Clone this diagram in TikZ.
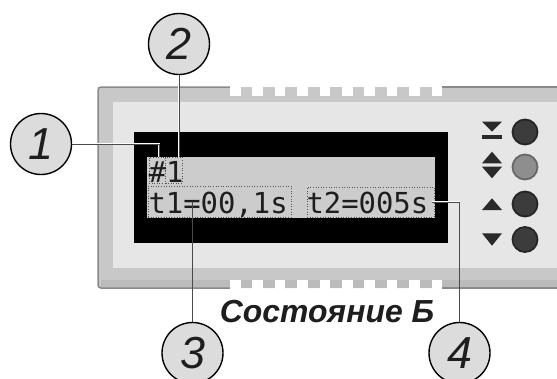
\documentclass[tikz,border=0pt]{standalone}
\usepackage{fontspec}
\setmainfont{Liberation Sans}
\newfontfamily\lcdfont{DejaVu Sans Mono}
\newfontfamily\numfont{Liberation Sans}
\definecolor{bandgray}{HTML}{C8C8C8}
\definecolor{banddark}{HTML}{BBBBBB}
\definecolor{edgegray}{HTML}{8A8A8A}
\definecolor{innerpanel}{HTML}{E6E6E6}
\definecolor{screengray}{HTML}{CCCCCC}
\definecolor{lcdtext}{HTML}{1E1E1E}
\definecolor{callfill}{HTML}{DCDCDC}
\definecolor{btndark}{HTML}{3C3C3C}
\definecolor{btnrim}{HTML}{262626}
\definecolor{btnlight}{HTML}{8E8E8E}
\definecolor{btnlrim}{HTML}{686868}
\definecolor{trigray}{HTML}{2A2A2A}
\definecolor{linecore}{HTML}{4A4A4A}
\definecolor{boxline}{HTML}{555555}
\tikzset{
  callout/.style={circle, draw=black, line width=1.4bp, fill=callfill, minimum size=61bp, inner sep=0pt,
    font=\numfont\itshape\fontsize{45}{45}\selectfont, text=lcdtext},
  lcd/.style={inner sep=0pt, outer sep=0pt, font=\lcdfont\fontsize{29}{29}\selectfont, text=lcdtext},
  dotbox/.style={rectangle, draw=boxline, dotted, line width=0.6bp, inner sep=0pt, outer sep=0pt},
  conn/.style={draw=linecore, line width=0.7bp, preaction={draw=white, line width=1.9bp}},
  btn/.style={circle, fill=btndark, draw=btnrim, line width=1.8bp, minimum size=25bp, inner sep=0pt},
  btnlt/.style={btn, fill=btnlight, draw=btnlrim},
  tri/.style={fill=trigray}
}
\begin{document}
\begin{tikzpicture}[x=1bp,y=-1bp]
\useasboundingbox (0,0) rectangle (557,378);
\fill[white] (0,0) rectangle (557,378);
\clip (0,0) rectangle (557,378);
% device body
\fill[bandgray, rounded corners=3bp] (98,87) rectangle (600,288);
\fill[banddark] (101,280) rectangle (600,287.5);
\fill[innerpanel] (113,102) rectangle (600,268);
\draw[edgegray, line width=1.5bp, rounded corners=3bp] (230,87) -- (98,87) -- (98,288) -- (230,288);
\draw[edgegray, line width=1.5bp] (442,87) -- (600,87);
\draw[edgegray, line width=1.5bp] (442,288) -- (600,288);
\foreach \i in {0,...,9} {
  \fill[white] ({230+22.4*\i},85) rectangle ++(10.5,11);
  \fill[white] ({230+22.4*\i},280) rectangle ++(10.5,10);
}
% LCD
\fill[black] (134,132) rectangle (448,243);
\fill[screengray] (147,157) rectangle (435,218);
% boxes
\node[dotbox, minimum width=16.5bp, minimum height=26bp] (b1) at (157.25,170) {};
\node[dotbox, minimum width=16.5bp, minimum height=26bp] (b2) at (173.75,170) {};
\node[dotbox, minimum width=143bp, minimum height=31bp] (b3) at (219.5,201.5) {};
\node[dotbox, minimum width=127bp, minimum height=30bp] (b4) at (370.5,202) {};
% LCD texts
\node[lcd, anchor=base west] (t0) at (148.8,182) {\#1};
\node[lcd, anchor=base west] (t1) at (148.5,213) {t1=00,1s};
\node[lcd, anchor=base west] (t2) at (306.5,213) {t2=005s};
% buttons
\node[btn] (k1) at (525,132) {};
\node[btnlt] (k2) at (525,167) {};
\node[btn] (k3) at (525,204) {};
\node[btn] (k4) at (525,239.5) {};
\fill[tri] (482,121.7) -- (502,121.7) -- (492,131.7) -- cycle;
\fill[tri] (482,135.3) rectangle (502,138.7);
\fill[tri] (482,163.3) -- (502,163.3) -- (492,151.7) -- cycle;
\fill[tri] (482,166.7) -- (502,166.7) -- (492,178.3) -- cycle;
\fill[tri] (482,210) -- (502,210) -- (492,198.3) -- cycle;
\fill[tri] (482,233.3) -- (502,233.3) -- (492,245.7) -- cycle;
% caption
\node[font=\bfseries\itshape\fontsize{32}{32}\selectfont, text=lcdtext, anchor=base, inner sep=0pt] (cap) at (327,322) {Состояние Б};
% callouts
\node[callout] (c1) at (41,144) {1};
\node[callout] (c2) at (179,44) {2};
\node[callout] (c3) at (192.5,353) {3};
\node[callout] (c4) at (459.5,353) {4};
% connectors
\draw[conn] (c1.east) -| ([xshift=1.7bp]b1.north);
\draw[conn] (c2.south) -- (c2.south |- b2.north);
\draw[conn] (c3.north) -- (c3.north |- b3.center);
\draw[conn] ([xshift=-2bp]b4.east) -- (c4.north |- b4.east) -- (c4.north);
\end{tikzpicture}
\end{document}
